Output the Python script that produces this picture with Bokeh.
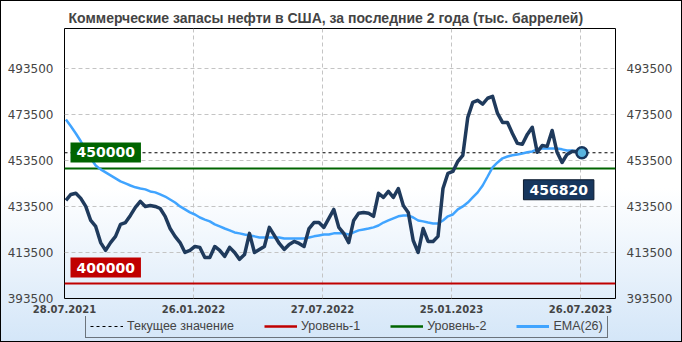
from datetime import datetime
import pandas as pd
from bokeh.plotting import figure
from bokeh.layouts import column
from bokeh.models import (Range1d, FixedTicker, LinearAxis, NumeralTickFormatter,
                          Legend, LegendItem, Label)
from bokeh.embed import file_html
from bokeh.resources import INLINE

title_text = "Коммерческие  запасы нефти  в США, за последние  2 года (тыс. баррелей)"
first_week = "2021-07-30"

stocks = [436100, 438700, 439200, 437000, 433500, 427400, 424800, 417800, 414400, 417800,
          420500, 425700, 426500, 429600, 433100, 435700, 433500, 433900, 433500, 432600,
          429200, 423900, 420500, 417800, 413500, 414400, 416100, 415700, 411300, 411300,
          416100, 414400, 411800, 415700, 413500, 410500, 412600, 421800, 413500, 414800,
          416100, 424400, 420900, 417400, 414800, 417000, 418300, 417400, 416100, 423900,
          426500, 426500, 424400, 428300, 432200, 424400, 421800, 417800, 427400, 430500,
          430900, 430500, 429200, 439200, 437400, 440000, 437400, 441300, 433900, 430900,
          418700, 413500, 423900, 418300, 418300, 420500, 441300, 447900, 448700, 453100,
          455700, 472200, 478700, 479600, 477900, 480500, 481300, 473900, 470000, 470000,
          465200, 460900, 460500, 464800, 467900, 457000, 460000, 459600, 466500, 457000,
          452600, 456100, 457400, 457400, 456820]

ema26 = [471300, 468300, 465200, 461800, 457800, 454400, 451300, 449600, 448300, 447000,
         445700, 444400, 443500, 442600, 441800, 441300, 440900, 440000, 439600, 438700,
         437800, 436500, 435200, 433500, 432200, 430900, 430000, 428700, 427800, 427000,
         425700, 424800, 423900, 423100, 422200, 421800, 421300, 420900, 420500, 420000,
         420000, 420000, 420000, 420000, 419600, 419600, 419600, 419600, 419600, 420000,
         420500, 420900, 421300, 421300, 421800, 421800, 421800, 421300, 422200, 423100,
         423500, 423900, 424400, 425200, 426500, 427400, 428300, 429200, 429600, 429600,
         428700, 427400, 427000, 426500, 426100, 426100, 427400, 429200, 430000, 432200,
         433500, 435200, 437400, 439600, 442600, 446500, 450500, 452600, 454400, 455200,
         455700, 456100, 456500, 457000, 457400, 458300, 458700, 458700, 458700, 458700,
         458300, 457800, 457800, 457400, 457400]

level1 = 400000
level2 = 450000
current_value = 456820

y_ticks = [393500, 413500, 433500, 453500, 473500, 493500]
y_limits = [393500, 510800]
x_limits = ["2021-07-28", "2023-09-13 10:00"]
x_tick_dates = ["2021-07-28", "2022-01-26", "2022-07-27", "2023-01-25", "2023-07-26"]
x_tick_labels = ["28.07.2021", "26.01.2022", "27.07.2022", "25.01.2023", "26.07.2023"]
legend_labels = ["Текущее значение", "Уровень-1", "Уровень-2", "EMA(26)"]

COL_MAIN = "#1f3a5c"
COL_EMA = "#40a4ff"
COL_L1 = "#c00000"
COL_L2 = "#006400"
COL_LABEL = "#17365d"

dates = pd.date_range(first_week, periods=len(stocks), freq="7D")
x0 = pd.Timestamp(x_limits[0]).to_pydatetime()
x1 = pd.Timestamp(x_limits[1]).to_pydatetime()
tick_ms = [int(pd.Timestamp(d).value // 10**6) for d in x_tick_dates]

p = figure(width=682, height=316, x_axis_type="datetime",
           x_range=Range1d(x0, x1), y_range=Range1d(*y_limits),
           output_backend="svg", toolbar_location=None,
           min_border_left=64, min_border_right=67, min_border_top=28, min_border_bottom=18,
           background_fill_color=None, border_fill_color=None,
           outline_line_color="black", outline_line_width=1)
p.frame_align = False

p.title.text = title_text
p.title.text_font = "Liberation Sans"
p.title.text_font_size = "14px"
p.title.text_font_style = "bold"
p.title.align = "left"
p.title.offset = 4
p.title.standoff = 6

# x axis
p.xaxis.ticker = FixedTicker(ticks=tick_ms)
p.xaxis.major_label_overrides = dict(zip(tick_ms, x_tick_labels))
p.xaxis.major_label_text_font = "DejaVu Sans"
p.xaxis.major_label_text_font_style = "bold"
p.xaxis.major_label_text_font_size = "10px"
p.xaxis.major_label_standoff = 6

# y axes
yticker = FixedTicker(ticks=y_ticks)
p.yaxis.ticker = yticker
p.yaxis.formatter = NumeralTickFormatter(format="0")
right_axis = LinearAxis(ticker=yticker, formatter=NumeralTickFormatter(format="0"))
p.add_layout(right_axis, "right")
for ax in p.axis:
    ax.axis_line_color = None
    ax.major_tick_line_color = None
    ax.minor_tick_line_color = None
    ax.major_tick_in = 0
    ax.major_tick_out = 0
for ax in p.yaxis:
    ax.major_label_text_font = "DejaVu Sans"
    ax.major_label_text_font_size = "12px"
    ax.major_label_standoff = 11

p.xgrid.ticker = FixedTicker(ticks=tick_ms)
p.ygrid.ticker = yticker
for g in (p.xgrid, p.ygrid):
    g.grid_line_color = "#c4c4c4"
    g.grid_line_dash = "4 3"
    g.grid_line_width = 1

# level lines
p.line([x0, x1], [current_value, current_value], line_color="black",
       line_dash="3 3", line_width=1)
p.line([x0, x1], [level1, level1], line_color=COL_L1, line_width=2)
p.line([x0, x1], [level2, level2], line_color=COL_L2, line_width=2)

p.line(dates, ema26, line_color=COL_EMA, line_width=2.5)
p.line(dates, stocks, line_color=COL_MAIN, line_width=3.5, line_join="round")
p.scatter([dates[-1]], [stocks[-1]], size=11, fill_color="#5ab4de",
          line_color=COL_LABEL, line_width=2.5)

# value labels
label_style = dict(text_color="white", text_font="DejaVu Sans", text_font_style="bold",
                   text_font_size="14px", padding=(6, 5))
p.add_layout(Label(x=x0, y=level2, x_offset=6, y_offset=6, text=f"{level2}",
                   text_align="left", text_baseline="bottom",
                   background_fill_color=COL_L2, **label_style))
p.add_layout(Label(x=x0, y=level1, x_offset=6, y_offset=6, text=f"{level1}",
                   text_align="left", text_baseline="bottom",
                   background_fill_color=COL_L1, **label_style))
p.add_layout(Label(x=dates[-1], y=current_value, x_offset=12, y_offset=-27,
                   text=f"{current_value}", text_align="right", text_baseline="top",
                   background_fill_color=COL_LABEL, border_line_color="#0b1a2e",
                   **label_style))

# legend strip (same series styles; y range keeps its lines out of view)
lg = figure(width=682, height=26, x_range=Range1d(0, 1), y_range=Range1d(0, 1),
            x_axis_location=None, y_axis_location=None,
            output_backend="svg", toolbar_location=None,
            min_border_left=0, min_border_right=0, min_border_top=0, min_border_bottom=0,
            background_fill_color=None, border_fill_color=None, outline_line_color=None)
lg.frame_align = False
lg.grid.visible = False
r_cur = lg.line([0, 1], [current_value, current_value], line_color="black",
                line_dash="3 3", line_width=1)
r_l1 = lg.line([0, 1], [level1, level1], line_color=COL_L1, line_width=2.5)
r_l2 = lg.line([0, 1], [level2, level2], line_color=COL_L2, line_width=2.5)
r_ema = lg.line([0, 1], [ema26[-1], ema26[-1]], line_color=COL_EMA, line_width=3)

legend = Legend(items=[LegendItem(label=legend_labels[0], renderers=[r_cur]),
                       LegendItem(label=legend_labels[1], renderers=[r_l1]),
                       LegendItem(label=legend_labels[2], renderers=[r_l2]),
                       LegendItem(label=legend_labels[3], renderers=[r_ema])],
                orientation="horizontal", location=(85, 4),
                glyph_width=33, glyph_height=12, label_height=12, label_standoff=4,
                spacing=30, padding=4, margin=0,
                border_line_color="black", border_line_width=1,
                background_fill_alpha=0,
                label_text_font="Liberation Sans", label_text_font_size="12.5px")
lg.add_layout(legend, "center")

layout = column(p, lg, spacing=0)
layout.styles = {"background": "linear-gradient(to bottom, #ffffff 0%, #ffffff 55%, #d4e6f8 100%)",
                 "box-shadow": "inset 0 0 0 1px #000000"}

open("out.html", "w").write(file_html(layout, INLINE))
